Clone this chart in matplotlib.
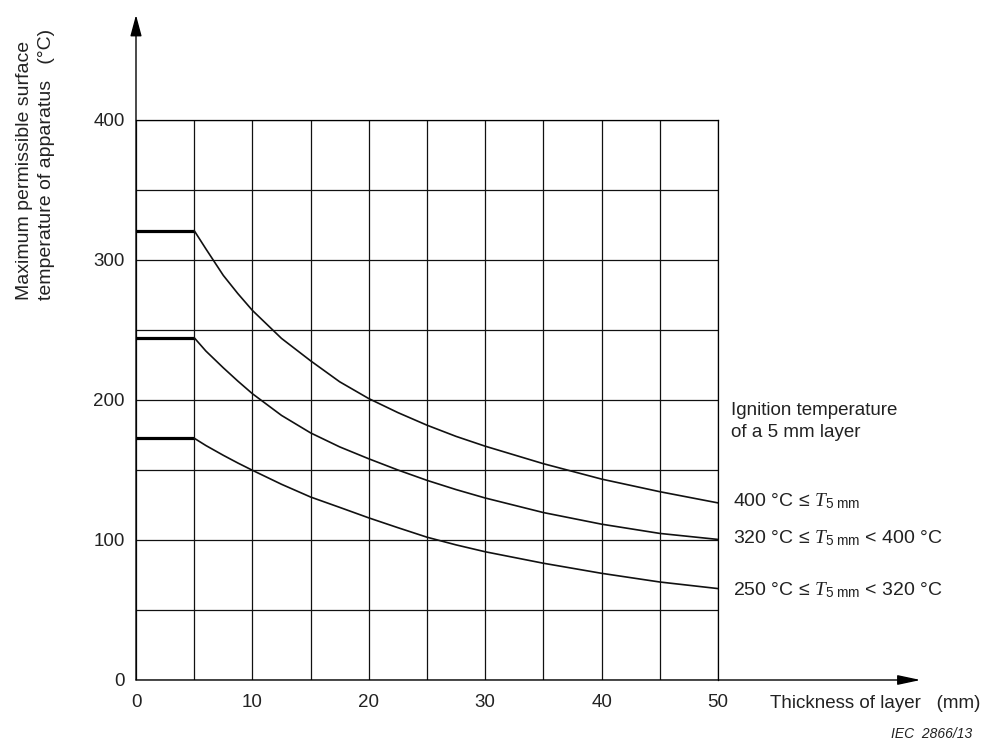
import numpy as np
import matplotlib
matplotlib.use("Agg")
import matplotlib.pyplot as plt

plt.rcParams['font.family'] = ['Liberation Sans', 'DejaVu Sans']
plt.rcParams['mathtext.fontset'] = 'custom'
plt.rcParams['mathtext.rm'] = 'Liberation Sans'
plt.rcParams['mathtext.it'] = 'Liberation Serif:italic'

# thickness of layer (mm) and max surface temperature (°C)
thick = [5, 6, 7.5, 8.75, 10, 12.5, 15, 17.5, 20, 22.5, 25, 27.5, 30, 35, 40, 45, 50]
temp_400 = [321, 308, 289, 276, 264, 244, 228, 213, 201, 191, 182, 174, 167, 154.5, 143.5, 134.5, 126.5]
temp_320 = [244.5, 235, 223, 213.5, 204.5, 189, 176.5, 166.5, 158, 150, 142.6, 136, 130, 119.6, 111.3, 104.7, 100.4]
temp_250 = [172.7, 167.5, 160.5, 155, 149.8, 139.8, 130.7, 123.3, 115.8, 108.8, 102, 96.5, 91.6, 83.4, 76.2, 70, 65.3]
plateau_x = [0, 5]

curve_labels = [r'400 °C ≤ $T_{\mathrm{5\ mm}}$',
                r'320 °C ≤ $T_{\mathrm{5\ mm}}$ < 400 °C',
                r'250 °C ≤ $T_{\mathrm{5\ mm}}$ < 320 °C']
label_y = [124.3, 97.9, 60.7]

x_ticks = [0, 10, 20, 30, 40, 50]
x_minor = [5, 15, 25, 35, 45]
y_ticks = [0, 100, 200, 300, 400]
y_minor = [50, 150, 250, 350]

W, H = 982, 744
fig = plt.figure(figsize=(W / 100, H / 100), dpi=100)
ax = fig.add_axes([136 / W, (H - 680) / H, 582 / W, 560 / H])
ax.set_xlim(0, 50)
ax.set_ylim(0, 400)

ax.set_xticks(x_ticks)
ax.set_xticks(x_minor, minor=True)
ax.set_yticks(y_ticks)
ax.set_yticks(y_minor, minor=True)
ax.grid(True, which='both', color='#111111', lw=0.9)
ax.tick_params(which='both', length=0, labelsize=13.5, colors='#222222')
ax.tick_params(axis='x', pad=10)
ax.tick_params(axis='y', pad=8)
for s in ['top', 'right']:
    ax.spines[s].set_linewidth(0.9)
ax.spines['left'].set_visible(False)
ax.spines['bottom'].set_visible(False)

# axes with arrow heads
ax.annotate('', xy=(0, 1.1875), xytext=(0, 0), xycoords='axes fraction',
            arrowprops=dict(arrowstyle='-|>,head_length=1.3,head_width=0.35',
                            color='black', lw=1.0, shrinkA=0, shrinkB=0))
ax.annotate('', xy=(1.348, 0), xytext=(0, 0), xycoords='axes fraction',
            arrowprops=dict(arrowstyle='-|>,head_length=1.4,head_width=0.3',
                            color='black', lw=1.0, shrinkA=0, shrinkB=0))

for t in [temp_400, temp_320, temp_250]:
    ax.plot(plateau_x, [t[0], t[0]], color='black', lw=2.3, solid_capstyle='butt', clip_on=False)
    ax.plot(thick, t, color='#111111', lw=1.2, solid_joinstyle='round')

ax.text(51.1, 189.6, 'Ignition temperature', fontsize=13.5, va='baseline', color='#222222')
ax.text(51.1, 173.6, 'of a 5 mm layer', fontsize=13.5, va='baseline', color='#222222')
for lab, yy in zip(curve_labels, label_y):
    ax.text(51.3, yy, lab, fontsize=14, va='baseline', color='#222222')

fig.text(770 / W, 1 - 704 / H, 'Thickness of layer   (mm)', fontsize=13.5,
         va='center', color='#222222')
fig.text(25 / W, 1 - 300 / H, 'Maximum permissible surface', fontsize=14,
         rotation=90, ha='center', va='bottom', color='#222222')
fig.text(47 / W, 1 - 300 / H, 'temperature of apparatus   (°C)', fontsize=14,
         rotation=90, ha='center', va='bottom', color='#222222')
fig.text(972 / W, 1 - 741 / H, 'IEC  2866/13', fontsize=10, style='italic',
         ha='right', va='bottom', color='#222222')

fig.savefig('out.png', dpi=100)
